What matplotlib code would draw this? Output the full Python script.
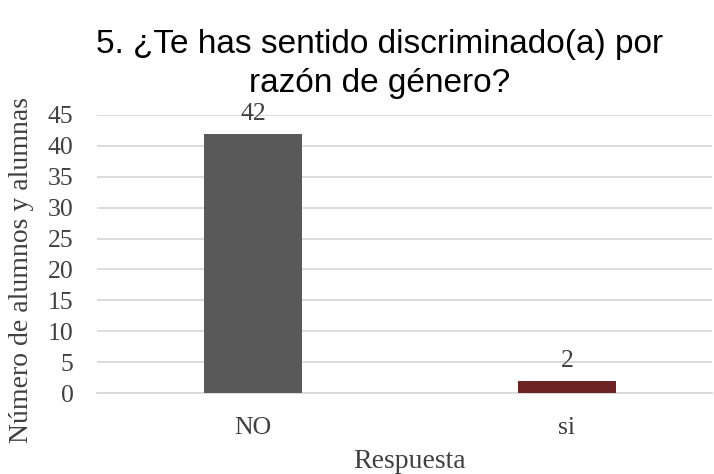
import matplotlib
matplotlib.use("Agg")
import matplotlib.pyplot as plt

categories = ["NO", "si"]
values = [42, 2]
colors = ["#595959", "#6B2222"]
yticks = [0, 5, 10, 15, 20, 25, 30, 35, 40, 45]

W, H = 714, 474
fig = plt.figure(figsize=(W/100, H/100), dpi=100)
ax = fig.add_axes([97/W, 1-393/H, (712-97)/W, (393-115)/H])

serif = "Liberation Serif"
tcol = "#404040"
fs = 18.5

x = list(range(len(categories)))
bars = ax.bar(x, values, width=0.315, color=colors, zorder=3)
ax.set_xlim(-0.497, 1.462)
ax.set_ylim(0, 45)
ax.set_yticks(yticks)
ax.set_xticks(x)
ax.set_xticklabels(categories)
ax.yaxis.grid(True, color="#D9D9D9", linewidth=1.3, zorder=0)
ax.set_axisbelow(True)
for s in ["top", "right", "left"]:
    ax.spines[s].set_visible(False)
ax.spines["bottom"].set_color("#D9D9D9")
ax.spines["bottom"].set_linewidth(1.3)
ax.tick_params(axis="y", length=0, labelsize=fs, labelcolor=tcol, pad=17)
ax.tick_params(axis="x", length=0, labelsize=fs, labelcolor=tcol, pad=17)
for lab in ax.get_xticklabels() + ax.get_yticklabels():
    lab.set_family(serif)

for b, v in zip(bars, values):
    ax.annotate(str(v), (b.get_x() + b.get_width()/2, v), xytext=(0, 6),
                textcoords="offset points", ha="center", va="bottom",
                fontsize=fs, color=tcol, family=serif)

ax.set_xlabel("Respuesta", fontsize=20, family=serif, color=tcol)
ax.set_ylabel("Número de alumnos y alumnas", fontsize=20, family=serif, color=tcol)
ax.xaxis.set_label_coords((410-97)/615, (393-461)/278)
ax.yaxis.set_label_coords((22-97)/615, (393-270)/278)
ax.xaxis.label.set_va("center")
ax.yaxis.label.set_va("center")

fig.text(380/W, 1-64/H, "5. ¿Te has sentido discriminado(a) por\nrazón de género?",
         ha="center", va="center", fontsize=24, family="Liberation Sans",
         color="#000000", linespacing=1.3)

fig.savefig("out.png", dpi=100)
